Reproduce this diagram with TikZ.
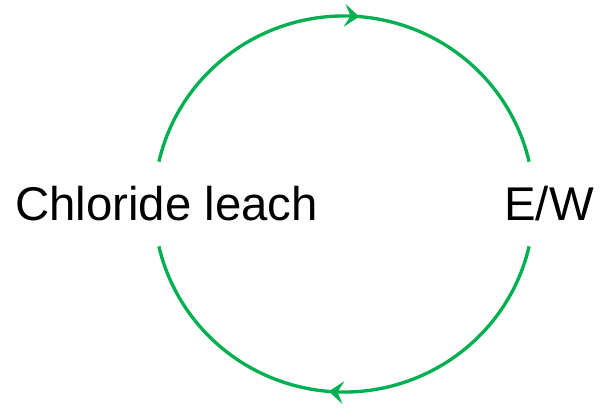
\documentclass[tikz,border=0pt]{standalone}
\usepackage{fontspec}
\setmainfont{Liberation Sans}
\usetikzlibrary{arrows.meta,positioning,decorations.markings}
\definecolor{cyclegreen}{RGB}{0,176,80}

\begin{document}
\begin{tikzpicture}[x=0.75pt, y=0.75pt,
		label text/.style={font=\fontsize{35.5}{42}\selectfont, inner sep=0pt, anchor=base},
		cycle arc/.style={cyclegreen, line width=2.5pt,
			decoration={markings, mark=at position 0.53 with {\arrow{Stealth[length=11pt, width=17pt, inset=4.5pt]}}},
			postaction={decorate}}]
	\useasboundingbox (0,0) rectangle (601,408);
	
	% Stages
	\coordinate (centre) at (344,204);
	\node[label text] (leach) at (166.5,187) {Chloride leach};
	\node[label text] (ew) at (549,187) {E/W};
	
	% Top arc: leach to E/W
	\draw[cycle arc] ([shift={(167:190 and 188)}]centre)
		arc[start angle=167, end angle=13, x radius=190, y radius=188];
	
	% Bottom arc: E/W back to leach
	\draw[cycle arc] ([shift={(-13:190 and 188)}]centre)
		arc[start angle=-13, end angle=-167, x radius=190, y radius=188];
\end{tikzpicture}
\end{document}
